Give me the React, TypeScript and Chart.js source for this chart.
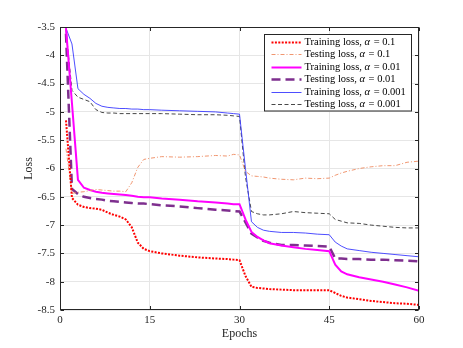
import React, { useEffect, useRef } from "react";
import { Chart, registerables } from "chart.js";

Chart.register(...registerables);

const epochs = [1, 2, 3, 4, 5, 6, 7, 8, 9, 10, 11, 12, 13, 14, 15, 17, 20, 23, 26, 28, 29, 30, 31, 32, 33, 34, 35, 37, 39, 41, 43, 45, 46, 47, 48, 50, 52, 54, 56, 58, 60];

const trainLoss01 = [-5.15, -6.52, -6.64, -6.68, -6.70, -6.71, -6.73, -6.78, -6.82, -6.85, -6.90, -7.04, -7.31, -7.42, -7.46, -7.50, -7.54, -7.57, -7.59, -7.60, -7.61, -7.62, -7.90, -8.09, -8.11, -8.12, -8.13, -8.14, -8.15, -8.15, -8.15, -8.15, -8.20, -8.25, -8.28, -8.31, -8.34, -8.36, -8.38, -8.39, -8.41];
const testLoss01 = [-5.65, -6.44, -6.42, -6.41, -6.39, -6.37, -6.38, -6.39, -6.40, -6.40, -6.41, -6.25, -5.98, -5.84, -5.82, -5.79, -5.80, -5.79, -5.77, -5.78, -5.75, -5.76, -6.05, -6.13, -6.14, -6.15, -6.17, -6.19, -6.20, -6.17, -6.18, -6.17, -6.12, -6.08, -6.05, -6.00, -5.97, -5.95, -5.95, -5.89, -5.87];
const trainLoss001 = [-3.52, -4.85, -6.20, -6.34, -6.38, -6.41, -6.43, -6.44, -6.45, -6.46, -6.47, -6.48, -6.50, -6.51, -6.51, -6.53, -6.55, -6.58, -6.60, -6.62, -6.63, -6.63, -6.90, -7.12, -7.21, -7.27, -7.32, -7.36, -7.39, -7.42, -7.44, -7.46, -7.70, -7.82, -7.87, -7.92, -7.96, -8.00, -8.05, -8.10, -8.16];
const testLoss001 = [-3.62, -6.36, -6.45, -6.50, -6.52, -6.54, -6.55, -6.57, -6.58, -6.59, -6.60, -6.61, -6.62, -6.62, -6.63, -6.65, -6.67, -6.70, -6.73, -6.74, -6.75, -6.76, -6.95, -7.15, -7.22, -7.28, -7.31, -7.35, -7.35, -7.36, -7.37, -7.38, -7.59, -7.59, -7.60, -7.60, -7.61, -7.61, -7.62, -7.63, -7.64];
const trainLoss0001 = [-3.52, -3.80, -4.59, -4.69, -4.76, -4.85, -4.90, -4.92, -4.93, -4.94, -4.94, -4.95, -4.95, -4.96, -4.96, -4.97, -4.98, -4.99, -5.00, -5.02, -5.03, -5.04, -6.00, -6.94, -7.04, -7.09, -7.11, -7.13, -7.13, -7.14, -7.16, -7.17, -7.30, -7.37, -7.42, -7.45, -7.48, -7.50, -7.52, -7.54, -7.56];
const testLoss0001 = [-3.55, -4.62, -4.74, -4.78, -4.82, -4.96, -5.01, -5.02, -5.02, -5.03, -5.03, -5.03, -5.03, -5.03, -5.03, -5.03, -5.04, -5.05, -5.05, -5.06, -5.07, -5.08, -6.15, -6.76, -6.80, -6.82, -6.82, -6.80, -6.76, -6.78, -6.79, -6.80, -6.90, -6.93, -6.96, -6.97, -7.00, -7.02, -7.04, -7.05, -7.05];

const seriesNames = ["Training loss", "Testing loss", "Training loss", "Testing loss", "Training loss", "Testing loss"];
const alphaValues = ["0.1", "0.1", "0.01", "0.01", "0.001", "0.001"];

const xTicks = [0, 15, 30, 45, 60];
const xTickLabels = ["0", "15", "30", "45", "60"];
const yTicks = [-8.5, -8, -7.5, -7, -6.5, -6, -5.5, -5, -4.5, -4, -3.5];
const yTickLabels = ["-8.5", "-8", "-7.5", "-7", "-6.5", "-6", "-5.5", "-5", "-4.5", "-4", "-3.5"];

const FONT = "'Liberation Serif', 'Times New Roman', serif";
const AXIS_COLOR = "#262626";

const styles = [
  { color: "#ff0000", width: 2, dash: [2, 1.4] },
  { color: "#ee8a60", width: 0.9, dash: [4, 2, 1, 2] },
  { color: "#ff00ff", width: 2, dash: [] as number[] },
  { color: "#7e2f8e", width: 2.5, dash: [9, 5] },
  { color: "#3a3aff", width: 0.9, dash: [] as number[] },
  { color: "#333333", width: 0.9, dash: [4, 2.5] },
];

const seriesValues = [trainLoss01, testLoss01, trainLoss001, testLoss001, trainLoss0001, testLoss0001];

const frameLegendPlugin = {
  id: "frameLegend",
  afterDatasetsDraw(chart: any) {
    const { ctx, chartArea: a, scales } = chart;
    const xs = scales.x;
    const ys = scales.y;
    ctx.save();
    // frame
    ctx.strokeStyle = AXIS_COLOR;
    ctx.lineWidth = 1;
    ctx.setLineDash([]);
    const L = Math.round(a.left) + 0.5;
    const R = Math.round(a.right) - 0.5;
    const T = Math.round(a.top) + 0.5;
    const B = Math.round(a.bottom) - 0.5;
    ctx.strokeRect(L, T, R - L, B - T);
    // inner tick marks
    const tl = 3.5;
    ctx.beginPath();
    xTicks.forEach((v) => {
      const px = Math.round(xs.getPixelForValue(v)) + 0.5;
      ctx.moveTo(px, B);
      ctx.lineTo(px, B - tl);
      ctx.moveTo(px, T);
      ctx.lineTo(px, T + tl);
    });
    yTicks.forEach((v) => {
      const py = Math.round(ys.getPixelForValue(v)) + 0.5;
      ctx.moveTo(L, py);
      ctx.lineTo(L + tl, py);
      ctx.moveTo(R, py);
      ctx.lineTo(R - tl, py);
    });
    ctx.stroke();

    // legend
    const fs = 10.5;
    const normal = `${fs}px ${FONT}`;
    const italic = `italic ${fs}px ${FONT}`;
    const rowH = 12.5;
    const padL = 7;
    const sampleW = 30;
    const gap = 3;
    const padR = 5;
    const padV = 7;
    const texts = seriesNames.map((n, i) => ({ a: n + ", ", b: "\u03b1", c: " = " + alphaValues[i] }));
    let maxW = 0;
    const widths = texts.map((t) => {
      ctx.font = normal;
      const wa = ctx.measureText(t.a).width;
      const wc = ctx.measureText(t.c).width;
      ctx.font = italic;
      const wb = ctx.measureText(t.b).width;
      const w = wa + wb + wc + 2;
      if (w > maxW) maxW = w;
      return { wa, wb, wc };
    });
    const boxW = padL + sampleW + gap + maxW + padR;
    const boxH = padV * 2 + rowH * (texts.length - 1);
    const right = Math.round(a.right - 8) + 0.5;
    const top = Math.round(a.top + 7) + 0.5;
    const left = Math.round(right - boxW) + 0.5;
    ctx.fillStyle = "#ffffff";
    ctx.fillRect(left, top, right - left, boxH);
    ctx.strokeStyle = AXIS_COLOR;
    ctx.lineWidth = 1;
    ctx.setLineDash([]);
    ctx.strokeRect(left, top, right - left, boxH);
    texts.forEach((t, i) => {
      const cy = top + padV + i * rowH;
      const st = styles[i];
      ctx.save();
      ctx.strokeStyle = st.color;
      ctx.lineWidth = st.width;
      ctx.setLineDash(st.dash);
      ctx.beginPath();
      ctx.moveTo(left + padL, Math.round(cy) + 0.5);
      ctx.lineTo(left + padL + sampleW, Math.round(cy) + 0.5);
      ctx.stroke();
      ctx.restore();
      ctx.fillStyle = "#000000";
      ctx.textBaseline = "middle";
      ctx.textAlign = "left";
      let tx = left + padL + sampleW + gap;
      ctx.font = normal;
      ctx.fillText(t.a, tx, cy + 0.5);
      tx += widths[i].wa;
      ctx.font = italic;
      ctx.fillText(t.b, tx, cy + 0.5);
      tx += widths[i].wb + 1;
      ctx.font = normal;
      ctx.fillText(t.c, tx, cy + 0.5);
    });
    ctx.restore();
  },
};

export default function App() {
  const canvasRef = useRef<HTMLCanvasElement | null>(null);

  useEffect(() => {
    const canvas = canvasRef.current;
    if (!canvas) return;
    Chart.defaults.font.family = FONT;
    const datasets = seriesValues.map((vals, i) => ({
      label: `${seriesNames[i]}, \u03b1 = ${alphaValues[i]}`,
      data: epochs.map((e, j) => ({ x: e, y: vals[j] })),
      borderColor: styles[i].color,
      backgroundColor: styles[i].color,
      borderWidth: styles[i].width,
      borderDash: styles[i].dash,
      pointRadius: 0,
      tension: 0,
      fill: false,
    }));
    const chart = new Chart(canvas, {
      type: "line",
      data: { datasets },
      options: {
        animation: false,
        responsive: false,
        devicePixelRatio: 1,
        layout: { padding: { top: 27, right: 44, left: 0, bottom: 0 } },
        plugins: { legend: { display: false }, tooltip: { enabled: false } },
        scales: {
          x: {
            type: "linear",
            min: 0,
            max: 60,
            afterFit: (s: any) => {
              s.height = 38;
            },
            afterBuildTicks: (s: any) => {
              s.ticks = xTicks.map((v) => ({ value: v }));
            },
            ticks: {
              callback: (v: any) => {
                const k = xTicks.indexOf(Number(v));
                return k >= 0 ? xTickLabels[k] : "";
              },
              font: { size: 11, family: FONT },
              color: AXIS_COLOR,
              padding: 4,
              maxRotation: 0,
              autoSkip: false,
            },
            grid: { color: "#e6e6e6", lineWidth: 1, drawTicks: false },
            border: { display: false },
            title: {
              display: true,
              text: "Epochs",
              font: { size: 12, family: FONT },
              color: AXIS_COLOR,
              padding: { top: 0, bottom: 7 },
            },
          },
          y: {
            type: "linear",
            min: -8.5,
            max: -3.5,
            afterFit: (s: any) => {
              s.width = 60;
            },
            afterBuildTicks: (s: any) => {
              s.ticks = yTicks.map((v) => ({ value: v }));
            },
            ticks: {
              callback: (v: any) => {
                const k = yTicks.findIndex((t) => Math.abs(t - Number(v)) < 1e-6);
                return k >= 0 ? yTickLabels[k] : "";
              },
              font: { size: 11, family: FONT },
              color: AXIS_COLOR,
              padding: 5,
              autoSkip: false,
            },
            grid: { color: "#e6e6e6", lineWidth: 1, drawTicks: false },
            border: { display: false },
            title: {
              display: true,
              text: "Loss",
              font: { size: 12, family: FONT },
              color: AXIS_COLOR,
              padding: { top: 22, bottom: 0 },
            },
          },
        },
      },
      plugins: [frameLegendPlugin],
    } as any);
    return () => chart.destroy();
  }, []);

  return (
    <div style={{ position: "fixed", left: 0, top: 0, width: 463, height: 348, background: "#fff" }}>
      <canvas ref={canvasRef} width={463} height={348} style={{ width: 463, height: 348, display: "block" }} />
    </div>
  );
}
